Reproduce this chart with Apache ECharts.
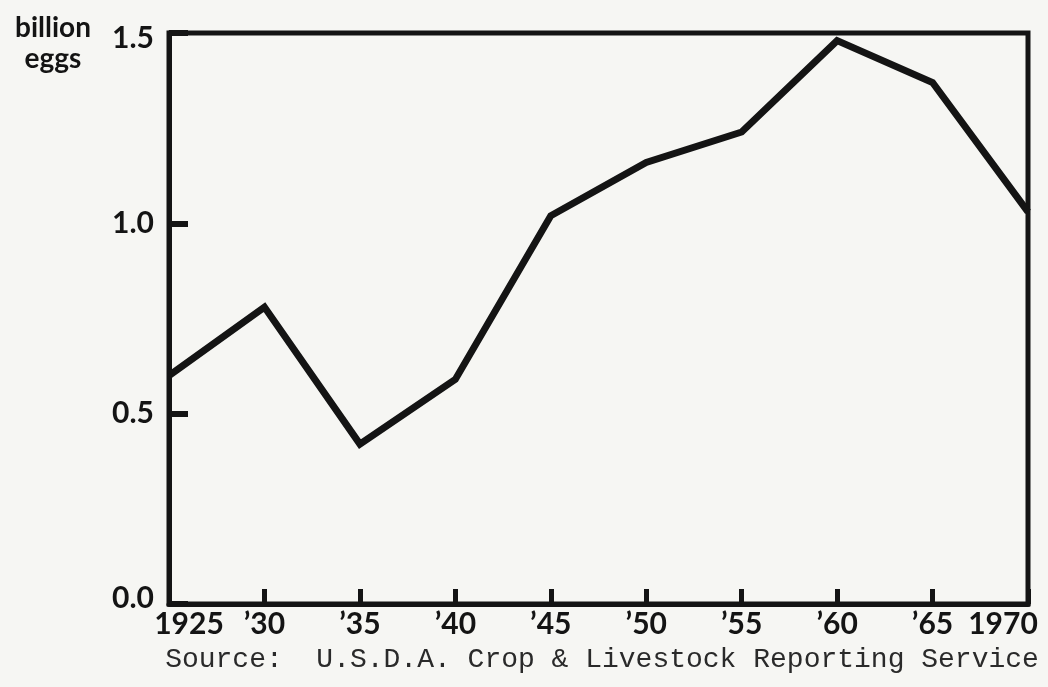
<!DOCTYPE html>
<html>
<head>
<meta charset="utf-8">
<script src="https://cdn.jsdelivr.net/npm/echarts@6/dist/echarts.min.js"></script>
<style>
html,body{margin:0;padding:0;background:#f6f6f3;}
#chart{width:1048px;height:687px;}
</style>
</head>
<body>
<div id="chart"></div>
<script>
const years = [1925, 1930, 1935, 1940, 1945, 1950, 1955, 1960, 1965, 1970];
const eggs = [0.60, 0.78, 0.42, 0.59, 1.02, 1.16, 1.24, 1.48, 1.37, 1.03];
const xTickLabels = ["1925", "\u201930", "\u201935", "\u201940", "\u201945", "\u201950", "\u201955", "\u201960", "\u201965", "1970"];
const yTickLabels = ["0.0", "0.5", "1.0", "1.5"];
const unitLabel = "billion\neggs";
const sourceText = "Source:  U.S.D.A. Crop & Livestock Reporting Service";

const ink = '#141414';
const chart = echarts.init(document.getElementById('chart'));
const labelFont = {fontSize: 30, fontFamily: 'Lato', fontWeight: 'bold', color: ink};
chart.setOption({
  backgroundColor: '#f6f6f3',
  animation: false,
  grid: {left: 169, right: 20, top: 33, bottom: 83, outerBoundsMode: 'none', containLabel: false,
         show: true, borderColor: ink, borderWidth: 5, backgroundColor: 'transparent'},
  graphic: [
    {type: 'text', x: 53, y: 12, style: {text: unitLabel, font: 'bold 28px Lato', fill: ink, align: 'center', lineHeight: 31}},
    {type: 'text', x: 602, y: 646, style: {text: sourceText, font: '28px "Liberation Mono"', fill: '#2a2a2a', align: 'center'}}
  ],
  xAxis: {
    type: 'value', min: 1925, max: 1970, interval: 5,
    axisLine: {show: true, lineStyle: {color: ink, width: 5}},
    axisTick: {show: true, inside: true, length: 15, lineStyle: {color: ink, width: 5}},
    splitLine: {show: false},
    axisLabel: Object.assign({}, labelFont, {
      margin: 5,
      formatter: function (v) {
        const i = years.indexOf(v);
        const t = xTickLabels[i] || '';
        if (i === 0) return '{first|' + t + '}';
        if (i === years.length - 1) return '{last|' + t + '}';
        return t;
      },
      rich: {
        first: Object.assign({}, labelFont, {padding: [0, 0, 0, 40]}),
        last: Object.assign({}, labelFont, {padding: [0, 50, 0, 0]})
      }
    })
  },
  yAxis: {
    type: 'value', min: 0, max: 1.5, interval: 0.5,
    axisLine: {show: true, lineStyle: {color: ink, width: 5}},
    axisTick: {show: true, inside: true, length: 19, lineStyle: {color: ink, width: 6}},
    splitLine: {show: false},
    axisLabel: Object.assign({}, labelFont, {
      margin: 15,
      formatter: function (v) {
        const i = Math.round(v / 0.5);
        const t = yTickLabels[i];
        if (i === 0) return '{bottom|' + t + '}';
        if (i === yTickLabels.length - 1) return '{top|' + t + '}';
        return t;
      },
      rich: {
        top: Object.assign({}, labelFont, {padding: [10, 0, 0, 0]}),
        bottom: Object.assign({}, labelFont, {padding: [0, 0, 12, 0]})
      }
    })
  },
  series: [{
    type: 'line',
    data: years.map((y, i) => [y, eggs[i]]),
    showSymbol: false,
    lineStyle: {color: ink, width: 7, join: 'miter'},
    clip: false
  }]
});
</script>
</body>
</html>
